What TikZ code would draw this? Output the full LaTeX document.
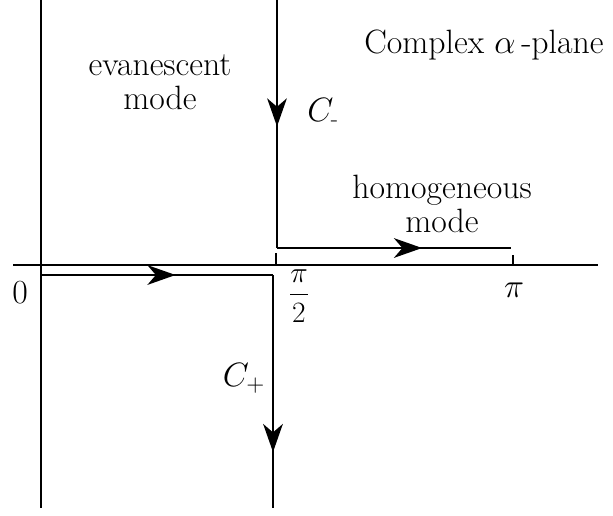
\documentclass[tikz,border=0pt]{standalone}
\usepackage{fix-cm}
\usepackage{amsmath}
\usetikzlibrary{arrows.meta,decorations.markings}
\newcommand{\PathTip}{Stealth[length=20pt,width=14pt,inset=6pt]}
\tikzset{mid/.style={decoration={markings,mark=at position #1 with {\arrow{\PathTip}}},postaction={decorate}}}
\tikzset{lbl/.style={font=\fontsize{24}{27}\selectfont,inner sep=0pt,align=center}}
\begin{document}
\begin{tikzpicture}[x=0.025cm,y=-0.025cm,line width=1.4pt]
\useasboundingbox(0,0)rectangle(613,515);
% axes
\coordinate(xl)at(13,265);\coordinate(xr)at(598,265);
\coordinate(yt)at(41,0);\coordinate(yb)at(41,508);
\draw(xl)--(xr);\draw(yt)--(yb);
\coordinate(th)at(276,265);\coordinate(tp)at(513,265);
\draw(th)--++(0,-12);\draw(tp)--++(0,-10);
% contours
\coordinate(m0)at(277,0);\coordinate(m1)at(277,248);\coordinate(m2)at(511,248);
\coordinate(p0)at(41,275);\coordinate(p1)at(273,275);\coordinate(p2)at(273,508);
\draw[mid=.51](m0)--(m1);\draw[mid=.62](m1)--(m2);
\draw[mid=.58](p0)--(p1);\draw[mid=.76](p1)--(p2);
% labels
\begin{scope}[lbl]
\node(zero)at(20,293){0};\node(half)at(299,296){\fontsize{21}{24}\selectfont$\dfrac{\pi}{2}$};
\node(pi)at(514,290){$\pi$};
\node(cm)at(323,112){$C_{\text{-}}$};\node(cp)at(244,378){$C_{+}$};
\node(ev)at(160,82){evanescent\\[-3pt]mode};
\node(hm)at(442,204){homogeneous\\[-3pt]mode};
\node(cx)at(484,45){Complex $\alpha$\,-plane};
\end{scope}
\end{tikzpicture}
\end{document}
